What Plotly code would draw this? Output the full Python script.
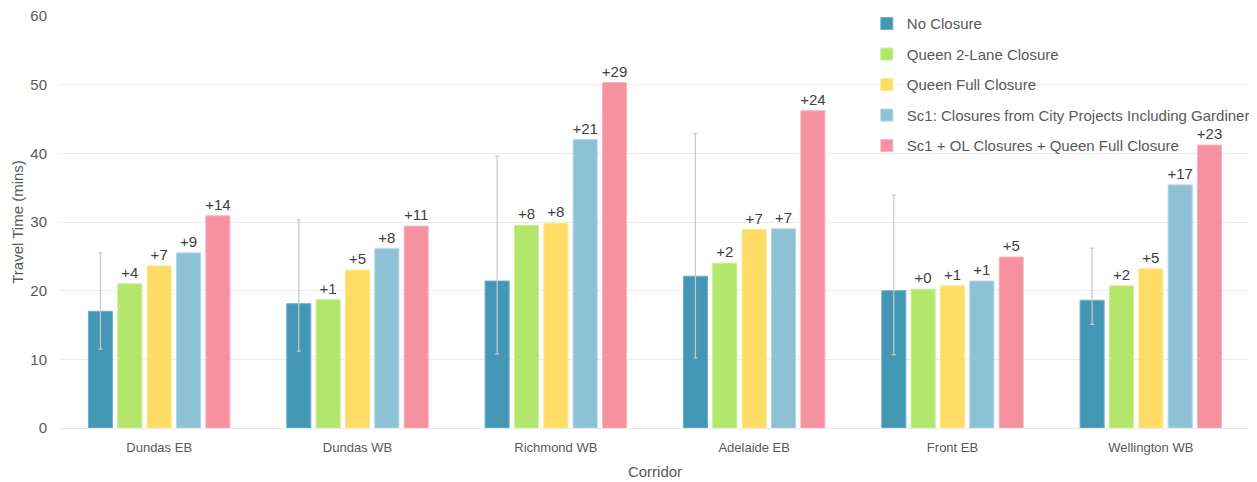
import plotly.graph_objects as go

corridors = ["Dundas EB", "Dundas WB", "Richmond WB", "Adelaide EB", "Front EB", "Wellington WB"]
series_names = [
    "No Closure",
    "Queen 2-Lane Closure",
    "Queen Full Closure",
    "Sc1: Closures from City Projects Including Gardiner",
    "Sc1 + OL Closures + Queen Full Closure",
]
no_closure = [17.0, 18.1, 21.4, 22.1, 20.0, 18.6]
queen_2lane = [21.0, 18.7, 29.5, 24.0, 20.2, 20.7]
queen_full = [23.6, 23.0, 29.8, 28.9, 20.7, 23.2]
sc1 = [25.5, 26.1, 42.0, 29.0, 21.4, 35.4]
sc1_ol = [30.9, 29.4, 50.3, 46.2, 24.9, 41.2]

err_plus = [8.5, 12.3, 18.2, 20.8, 13.9, 7.6]
err_minus = [5.5, 6.9, 10.6, 11.9, 9.3, 3.5]

labels_2lane = ["+4", "+1", "+8", "+2", "+0", "+2"]
labels_full = ["+7", "+5", "+8", "+7", "+1", "+5"]
labels_sc1 = ["+9", "+8", "+21", "+7", "+1", "+17"]
labels_sc1_ol = ["+14", "+11", "+29", "+24", "+5", "+23"]

colors = ["#4397b5", "#b2e66d", "#ffdc66", "#8dc2d5", "#f691a0"]
line_colors = ["#6bb0c8", "#c8f08f", "#ffe68c", "#b0d6e4", "#f9b3bd"]

values = [no_closure, queen_2lane, queen_full, sc1, sc1_ol]
texts = [None, labels_2lane, labels_full, labels_sc1, labels_sc1_ol]

FONT = "Liberation Sans, Arial, sans-serif"

fig = go.Figure()
for i, (name, vals) in enumerate(zip(series_names, values)):
    kw = {}
    if i == 0:
        kw["error_y"] = dict(type="data", symmetric=False, array=err_plus,
                             arrayminus=err_minus, color="#c8c8c8",
                             thickness=1.2, width=2)
    if texts[i] is not None:
        kw["text"] = texts[i]
        kw["textposition"] = "outside"
        kw["textfont"] = dict(size=15, color="#404040", family=FONT)
        kw["constraintext"] = "none"
        kw["cliponaxis"] = False
    fig.add_trace(go.Bar(
        x=corridors, y=vals, name=name,
        marker=dict(color=colors[i], line=dict(color=line_colors[i], width=1)),
        legendgroup=f"g{i}",
        **kw,
    ))

fig.update_layout(
    width=1249, height=474,
    margin=dict(l=52, r=7, t=8, b=54, autoexpand=False),
    paper_bgcolor="white", plot_bgcolor="white",
    barmode="group", bargap=0.26, bargroupgap=0.18,
    font=dict(family=FONT, color="#595959", size=14),
    legend=dict(x=0.678, y=1.021, xanchor="left", yanchor="top",
                bgcolor="rgba(0,0,0,0)", font=dict(size=15, color="#595959"),
                tracegroupgap=8, itemwidth=30),
    xaxis=dict(title=dict(text="Corridor", font=dict(size=15, color="#595959"), standoff=12),
               tickfont=dict(size=13, color="#595959"), automargin=False,
               ticklabelstandoff=7,
               showline=True, linecolor="#e8e8e8", linewidth=1, ticks=""),
    yaxis=dict(title=dict(text="Travel Time (mins)", font=dict(size=15, color="#595959"), standoff=3),
               range=[0, 60], dtick=10, tickfont=dict(size=15, color="#595959"),
               ticklabelstandoff=12, automargin=False, ticklabeloverflow="allow",
               showgrid=True, gridcolor="#ececec", gridwidth=1,
               zeroline=False, showline=False, ticks=""),
)

fig.write_html("out.html")
